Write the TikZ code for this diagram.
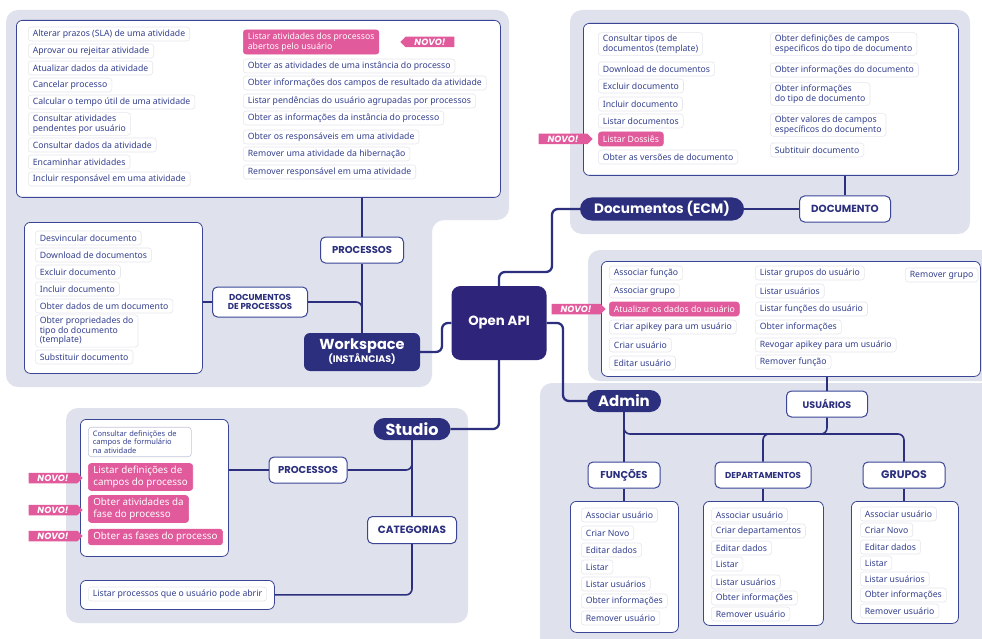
\documentclass[tikz,border=0pt]{standalone}
\usepackage{fontspec}
\setmainfont{Noto Sans}
\newfontfamily\headfont{Poppins}
\usetikzlibrary{positioning,shapes.symbols,calc}

\definecolor{navy}{HTML}{2B2F7E}
\definecolor{apic}{HTML}{2E2479}
\definecolor{ink}{HTML}{34408F}
\definecolor{hot}{HTML}{E15A9B}
\definecolor{zone}{HTML}{DFE1ED}
\definecolor{pill}{HTML}{E6E6EE}
\definecolor{frame}{HTML}{3A4596}

\begin{document}
\begin{tikzpicture}[
    x=1pt, y=-1pt,
    item/.style={
        draw=pill,
        fill=white,
        rounded corners=3pt,
        line width=0.6pt,
        anchor=west,
        align=left,
        text=ink,
        font=\fontsize{8.7}{9.6}\selectfont,
        inner xsep=4.5pt,
        inner ysep=2.2pt,
        minimum height=14
    },
    hotitem/.style={item, draw=hot, fill=hot, text=white, inner ysep=3pt},
    bighot/.style={hotitem, font=\fontsize{9.8}{11.2}\selectfont, inner xsep=5pt},
    novo/.style={
        signal,
        signal to=east,
        fill=hot,
        text=white,
        font=\headfont\bfseries\itshape\fontsize{9}{9}\selectfont,
        minimum width=54,
        minimum height=10.5,
        inner sep=0.6pt
    },
    group/.style={
        draw=frame,
        fill=white,
        rounded corners=6pt,
        line width=0.8pt,
        anchor=north west
    },
    branch/.style={
        draw=frame,
        fill=white,
        rounded corners=5pt,
        line width=1pt,
        text=navy,
        font=\headfont\bfseries\fontsize{10}{11}\selectfont,
        align=center,
        minimum height=26,
        inner sep=2pt
    },
    hub/.style={
        fill=navy,
        text=white,
        font=\headfont\bfseries,
        align=center,
        inner sep=2pt
    },
    link/.style={draw=navy, line width=1.6pt, rounded corners=6pt},
    mainlink/.style={link, line width=2.3pt},
    zonebg/.style={fill=zone, rounded corners=12pt}
]
\useasboundingbox (0,0) rectangle (982,639);
\fill[white] (0,0) rectangle (982,639);

% background zones
\path[zonebg] (6,10) -- (509,10) -- (509,220) -- (432,220) -- (432,387) -- (6,387) -- cycle;
\path[zonebg] (570,10) rectangle (970,234);
\path[zonebg] (588,250) rectangle (1000,381);
\path[zonebg] (540,383) rectangle (1000,660);
\path[zonebg] (66,408) rectangle (468,623);

% Workspace: processos
\node[group, minimum width=484, minimum height=177] (wsbox) at (16,20) {};
\node[item] (ws1) at (28,34) {Alterar prazos (SLA) de uma atividade};
\node[item] (ws2) at (28,51) {Aprovar ou rejeitar atividade};
\node[item] (ws3) at (28,68) {Atualizar dados da atividade};
\node[item] (ws4) at (28,85) {Cancelar processo};
\node[item] (ws5) at (28,102) {Calcular o tempo útil de uma atividade};
\node[item] (ws6) at (28,124) {Consultar atividades\\pendentes por usuário};
\node[item] (ws7) at (28,145) {Consultar dados da atividade};
\node[item] (ws8) at (28,162) {Encaminhar atividades};
\node[item] (ws9) at (28,179) {Incluir responsável em uma atividade};
\node[hotitem] (ws10) at (243,42) {Listar atividades dos processos\\abertos pelo usuário};
\node[item] (ws11) at (243,66) {Obter as atividades de uma instância do processo};
\node[item] (ws12) at (243,83) {Obter informações dos campos de resultado da atividade};
\node[item] (ws13) at (243,101) {Listar pendências do usuário agrupadas por processos};
\node[item] (ws14) at (243,118) {Obter as informações da instância do processo};
\node[item] (ws15) at (243,137) {Obter os responsáveis em uma atividade};
\node[item] (ws16) at (243,154) {Remover uma atividade da hibernação};
\node[item] (ws17) at (243,172) {Remover responsável em uma atividade};
\node[novo, signal to=west] (wsnew) at (430,42) {NOVO!};

% Workspace: documentos de processos
\node[group, minimum width=178, minimum height=151] (dpbox) at (24,222) {};
\node[item] (dp1) at (35,238) {Desvincular documento};
\node[item] (dp2) at (35,255) {Download de documentos};
\node[item] (dp3) at (35,272) {Excluir documento};
\node[item] (dp4) at (35,289) {Incluir documento};
\node[item] (dp5) at (35,306) {Obter dados de um documento};
\node[item] (dp6) at (35,331) {Obter propriedades do\\tipo do documento\\(template)};
\node[item] (dp7) at (35,357) {Substituir documento};

\node[branch, minimum width=95, minimum height=30, font=\headfont\bfseries\fontsize{8.6}{9.4}\selectfont] (docproc) at (260,302) {DOCUMENTOS\\DE PROCESSOS};
\node[branch, minimum width=83] (wsproc) at (362,250) {PROCESSOS};
\node[hub, minimum width=116, minimum height=38, rounded corners=6pt] (ws) at (362,352)
    {{\fontsize{14.5}{15}\selectfont Workspace}\\[-1pt]{\fontsize{9.5}{10}\selectfont (INSTÂNCIAS)}};

% Open API
\node[hub, fill=apic, minimum width=95, minimum height=74, rounded corners=9pt, font=\headfont\bfseries\fontsize{13.3}{14}\selectfont] (api) at (499,323) {Open API};

% Documentos (ECM)
\node[hub, minimum width=164, minimum height=23, rounded corners=11.5pt, font=\headfont\bfseries\fontsize{13.6}{14}\selectfont] (ecm) at (662,209) {Documentos (ECM)};
\node[branch, minimum width=91, font=\headfont\bfseries\fontsize{10.3}{11}\selectfont] (doc) at (845,209) {DOCUMENTO};
\node[group, minimum width=375, minimum height=152] (docsbox) at (583,23) {};
\node[item] (dc1) at (598,44) {Consultar tipos de\\documentos (template)};
\node[item] (dc2) at (598,69) {Download de documentos};
\node[item] (dc3) at (598,86) {Excluir documento};
\node[item] (dc4) at (598,104) {Incluir documento};
\node[item] (dc5) at (598,121) {Listar documentos};
\node[hotitem, inner ysep=2.2pt] (dc6) at (598,139) {Listar Dossiês};
\node[item] (dc7) at (598,157) {Obter as versões de documento};
\node[item] (dc8) at (770,44) {Obter definições de campos\\especificos do tipo de documento};
\node[item] (dc9) at (770,70) {Obter informações do documento};
\node[item] (dc10) at (770,94) {Obter informações\\do tipo de documento};
\node[item] (dc11) at (770,125) {Obter valores de campos\\específicos do documento};
\node[item] (dc12) at (770,150) {Subtituir documento};
\node[novo] (dcnew) at (563,139) {NOVO!};

% Admin: usuarios
\node[group, minimum width=379, minimum height=115] (usrbox) at (601,261) {};
\node[item] (us1) at (609,273) {Associar função};
\node[item] (us2) at (609,291) {Associar grupo};
\node[hotitem, inner ysep=2.2pt] (us3) at (609,309) {Atualizar os dados do usuário};
\node[item] (us4) at (609,327) {Criar apikey para um usuário};
\node[item] (us5) at (609,345) {Criar usuário};
\node[item] (us6) at (609,363) {Editar usuário};
\node[item] (us7) at (755,273) {Listar grupos do usuário};
\node[item] (us8) at (755,291) {Listar usuários};
\node[item] (us9) at (755,309) {Listar funções do usuário};
\node[item] (us10) at (755,327) {Obter informações};
\node[item] (us11) at (755,345) {Revogar apikey para um usuário};
\node[item] (us12) at (755,362) {Remover função};
\node[item] (us13) at (905,275) {Remover grupo};
\node[novo] (usnew) at (576,309) {NOVO!};

\node[hub, minimum width=74, minimum height=22, rounded corners=11pt, font=\headfont\bfseries\fontsize{15}{15}\selectfont] (admin) at (624,401) {Admin};
\node[branch, minimum width=81, font=\headfont\bfseries\fontsize{9.5}{10}\selectfont] (usr) at (827,404) {USUÁRIOS};
\node[branch, minimum width=72] (fun) at (624,475) {FUNÇÕES};
\node[branch, minimum width=96, font=\headfont\bfseries\fontsize{8.6}{9}\selectfont] (dep) at (763,475) {DEPARTAMENTOS};
\node[branch, minimum width=82, font=\headfont\bfseries\fontsize{11}{11}\selectfont] (grp) at (904,475) {GRUPOS};

% Admin: funcoes, departamentos, grupos
\node[group, minimum width=108, minimum height=131] (funbox) at (570,501) {};
\node[item] (fn1) at (581,515) {Associar usuário};
\node[item] (fn2) at (581,533) {Criar Novo};
\node[item] (fn3) at (581,550) {Editar dados};
\node[item] (fn4) at (581,567) {Listar};
\node[item] (fn5) at (581,584) {Listar usuários};
\node[item] (fn6) at (581,601) {Obter informações};
\node[item] (fn7) at (581,618) {Remover usuário};

\node[group, minimum width=120, minimum height=124] (depbox) at (703,501) {};
\node[item] (dt1) at (711,515) {Associar usuário};
\node[item] (dt2) at (711,531) {Criar departamentos};
\node[item] (dt3) at (711,548) {Editar dados};
\node[item] (dt4) at (711,564) {Listar};
\node[item] (dt5) at (711,582) {Listar usuários};
\node[item] (dt6) at (711,598) {Obter informações};
\node[item] (dt7) at (711,614) {Remover usuário};

\node[group, minimum width=107, minimum height=122] (grpbox) at (851,501) {};
\node[item] (gr1) at (860,514) {Associar usuário};
\node[item] (gr2) at (860,530) {Criar Novo};
\node[item] (gr3) at (860,547) {Editar dados};
\node[item] (gr4) at (860,563) {Listar};
\node[item] (gr5) at (860,579) {Listar usuários};
\node[item] (gr6) at (860,595) {Obter informações};
\node[item] (gr7) at (860,611) {Remover usuário};

% Studio
\node[hub, minimum width=77, minimum height=22, rounded corners=11pt, font=\headfont\bfseries\fontsize{16}{16}\selectfont] (studio) at (412,429) {Studio};
\node[group, minimum width=148, minimum height=137] (sbox) at (80,419) {};
\node[item, draw=pill!80!ink, font=\bfseries\fontsize{7.5}{8.3}\selectfont, inner ysep=3.5pt, text width=94] (st1) at (88,442) {Consultar definições de\\campos de formulário\\na atividade};
\node[bighot] (st2) at (88,477) {Listar definições de\\campos do processo};
\node[bighot] (st3) at (88,509) {Obter atividades da\\fase do processo};
\node[bighot] (st4) at (88,537) {Obter as fases do processo};
\node[novo] (stnew1) at (53,478) {NOVO!};
\node[novo] (stnew2) at (53,510) {NOVO!};
\node[novo] (stnew3) at (53,536) {NOVO!};
\node[branch, minimum width=78] (sproc) at (308,470) {PROCESSOS};
\node[branch, minimum width=89, minimum height=27, font=\headfont\bfseries\fontsize{10.5}{11}\selectfont] (cat) at (412,530) {CATEGORIAS};
\node[group, minimum width=194, minimum height=29] (lbox) at (80,580) {};
\node[item] (ls1) at (88,594) {Listar processos que o usuário pode abrir};

% connectors
\draw[link] (wsproc.north |- wsbox.south) -- (wsproc.north);
\draw[link] (wsproc.south) -- (ws.north);
\draw[link] (docproc.east) -| (ws.north);
\draw[link] (dpbox.east |- docproc.west) -- (docproc.west);
\draw[mainlink] (ws.east) -| (442,323) -- (api.west);
\draw[mainlink] (api.north) |- (552,272) |- (ecm.west);
\draw[link] (ecm.east) -- (doc.west);
\draw[link] (doc.north) -- (doc.north |- docsbox.south);
\draw[mainlink] (api.east) -| (563,380) |- (admin.west);
\draw[mainlink] (api.south) |- (studio.east);

\coordinate (bus) at (0,434);
\draw[link] (usr.north) -- (usr.north |- usrbox.south);
\draw[link] (admin.south) -- (fun.north);
\draw[link] (admin.south) |- (grp.north |- bus) -- (grp.north);
\draw[link] (usr.south) |- (dep.north |- bus) -- (dep.north);
\draw[link] (fun.south) -- (fun.south |- funbox.north);
\draw[link] (dep.south) -- (dep.south |- depbox.north);
\draw[link] (grp.south) -- (grp.south |- grpbox.north);

\draw[link] (studio.south) -- (cat.north);
\draw[link] (sproc.east) -| (studio.south);
\draw[link] (sbox.east |- sproc.west) -- (sproc.west);
\draw[link] (cat.south) |- (lbox.east);

\end{tikzpicture}
\end{document}
